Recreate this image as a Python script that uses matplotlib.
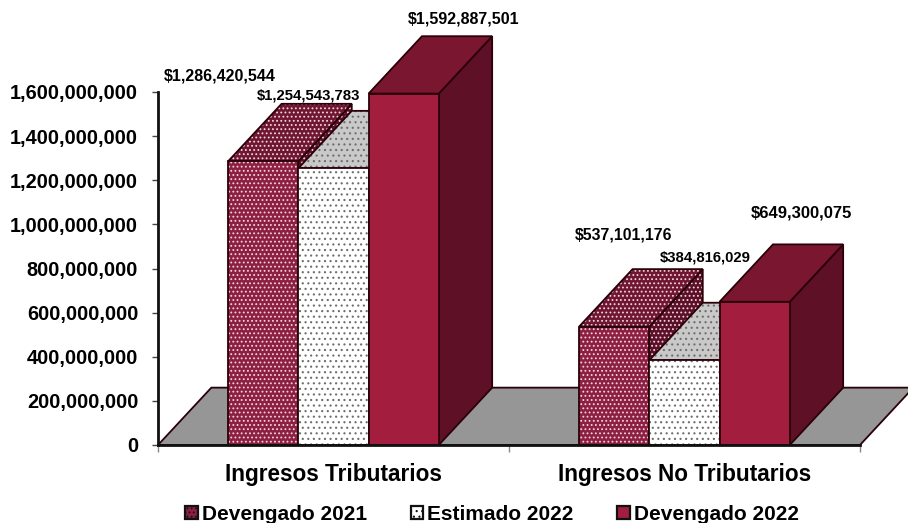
import matplotlib
matplotlib.use("Agg")
import matplotlib.pyplot as plt
from matplotlib.patches import Polygon, Patch

plt.rcParams['font.family'] = ['Liberation Sans', 'DejaVu Sans']
plt.rcParams['font.weight'] = 'bold'
plt.rcParams['hatch.linewidth'] = 0.8

categories = ["Ingresos Tributarios", "Ingresos No Tributarios"]
series = ["Devengado 2021", "Estimado 2022", "Devengado 2022"]
devengado_2021 = [1286420544, 537101176]
estimado_2022 = [1254543783, 384816029]
devengado_2022 = [1592887501, 649300075]
yticks = [0, 200000000, 400000000, 600000000, 800000000,
          1000000000, 1200000000, 1400000000, 1600000000]

# label offsets from the top of each bar, in pixels, and font sizes
label_off = [[(-44, 85), (-25, 73), (60, 75)],
             [(9, 92), (21, 103), (47, 89)]]
label_size = [[11.5, 10.7, 11.5],
              [11.4, 10.7, 12]]

# face, top, side, hatch
styles = [("#8c1f42", "#6e1632", "#5a1029", "#f3d3dc"),
          ("#ffffff", "#c9c9c9", "#c9c9c9", "#6e6e6e"),
          ("#a31e3e", "#7a1630", "#5e1026", None)]
hatches = ["....", "...", None]

bar_w = 0.2
dx = 0.152
dy = 0.26e9
edge = "#2a0008"

fig = plt.figure(figsize=(9.08, 5.23), dpi=100)
ax = fig.add_axes([158/908, 1-445/523, (860-158)/908, (445-92)/523])
ax.set_xlim(0, 2)
ax.set_ylim(0, 1.6e9)


def poly(pts, face, hatch=None, hcol=None, z=3):
    if hatch:
        ax.add_patch(Polygon(pts, closed=True, facecolor=face, edgecolor=hcol,
                             hatch=hatch, lw=0, zorder=z, clip_on=False))
        ax.add_patch(Polygon(pts, closed=True, fill=False, edgecolor=edge,
                             lw=1.3, zorder=z, clip_on=False))
    else:
        ax.add_patch(Polygon(pts, closed=True, facecolor=face, edgecolor=edge,
                             lw=1.3, zorder=z, clip_on=False))


# floor
poly([(0, 0), (dx, dy), (2+dx, dy), (2, 0)], "#969696", z=1)

values = [devengado_2021, estimado_2022, devengado_2022]
for g in range(len(categories)):
    for s in range(len(series)):
        v = values[s][g]
        x0 = g + 0.2 + s*bar_w
        x1 = x0 + bar_w
        face, top, side, hc = styles[s]
        z = 3 + g*10 + s*3
        poly([(x1, 0), (x1+dx, dy), (x1+dx, v+dy), (x1, v)], side, hatches[s], hc, z)
        poly([(x0, v), (x0+dx, v+dy), (x1+dx, v+dy), (x1, v)], top, hatches[s], hc, z+1)
        poly([(x0, 0), (x1, 0), (x1, v), (x0, v)], face, hatches[s], hc, z+2)
        ax.annotate(f"${v:,}", xy=((x0+x1)/2, v), xytext=label_off[g][s],
                    textcoords="offset pixels", ha="center", va="center",
                    fontsize=label_size[g][s], color="black",
                    annotation_clip=False, zorder=50)

for sp in ["top", "right"]:
    ax.spines[sp].set_visible(False)
for sp in ["left", "bottom"]:
    ax.spines[sp].set_linewidth(2)
    ax.spines[sp].set_color("#111111")
    ax.spines[sp].set_zorder(40)

ax.set_yticks(yticks)
ax.set_yticklabels([f"{t:,}" for t in yticks], fontsize=14.4)
ax.set_xticks([0, 1, 2])
ax.set_xticklabels([])
ax.set_xticks([0.5, 1.5], labels=categories, minor=True, fontsize=16.3)
ax.tick_params(axis="x", which="minor", length=0, pad=13)
ax.tick_params(axis="x", which="major", length=5, width=1, color="#888888")
ax.tick_params(axis="y", length=4.3, width=1, color="#444444", pad=10)

handles = [Patch(facecolor=styles[i][0], edgecolor="#111111", hatch=hatches[i], lw=1.6)
           for i in range(3)]
fig.legend(handles, series, ncol=3, loc="lower center", bbox_to_anchor=(0.542, -0.038),
           frameon=False, fontsize=15, handlelength=0.6, handleheight=0.6,
           handletextpad=0.2, columnspacing=2.1)

fig.savefig("out.png", dpi=100)
